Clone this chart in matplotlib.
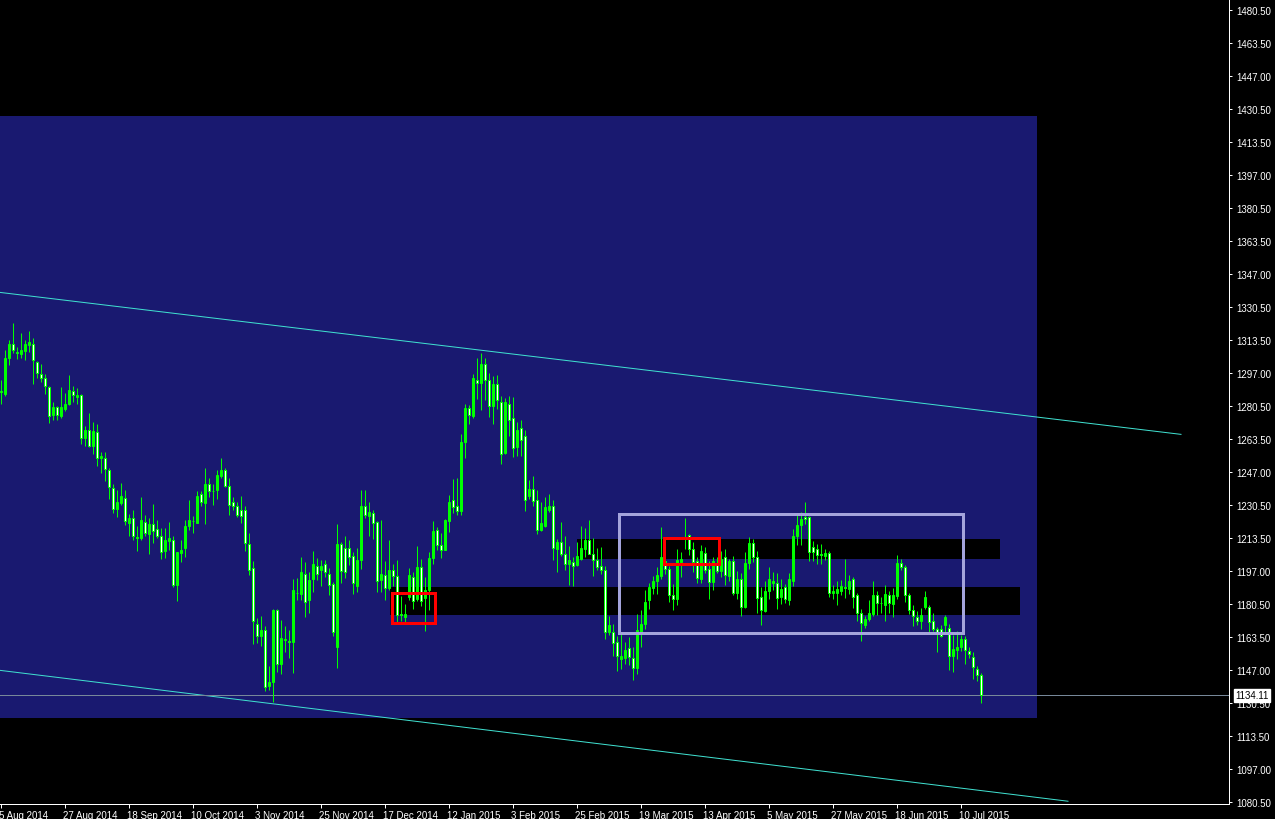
import matplotlib
matplotlib.use("Agg")
import matplotlib.pyplot as plt
from matplotlib.patches import Rectangle
from matplotlib.transforms import ScaledTranslation, blended_transform_factory
import numpy as np

# daily OHLC, one bar per trading day from 5 Aug 2014 to 17 Jul 2015
OPENS = [
    1287.5, 1286.6, 1304.7, 1311.5, 1307.6, 1306.8, 1308.1, 1311.1, 1311.5, 1302.7,
    1296.7, 1294.6, 1290.1, 1275.8, 1280.0, 1275.4, 1278.8, 1281.5, 1287.9, 1285.0,
    1286.0, 1264.3, 1268.4, 1260.3, 1267.4, 1254.2, 1254.2, 1248.2, 1239.1, 1228.3,
    1231.3, 1234.0, 1221.2, 1223.9, 1214.0, 1213.5, 1221.9, 1215.8, 1220.6, 1218.0,
    1214.5, 1207.1, 1212.2, 1212.5, 1189.9, 1206.1, 1208.8, 1219.9, 1222.4, 1221.2,
    1236.1, 1231.3, 1240.8, 1237.6, 1238.1, 1245.2, 1247.8, 1240.1, 1232.0, 1229.7,
    1227.6, 1227.6, 1210.8, 1198.3, 1170.1, 1164.3, 1167.4, 1138.8, 1141.1, 1177.1,
    1150.2, 1162.2, 1161.5, 1161.3, 1186.1, 1185.6, 1195.6, 1182.5, 1192.9, 1199.7,
    1197.3, 1200.4, 1195.6, 1190.3, 1158.6, 1210.8, 1208.4, 1208.4, 1204.8, 1189.6,
    1202.7, 1230.0, 1225.0, 1226.3, 1221.6, 1192.3, 1195.0, 1188.6, 1197.3, 1194.6,
    1175.3, 1173.8, 1183.9, 1193.9, 1182.9, 1199.0, 1183.2, 1187.6, 1203.7, 1217.9,
    1210.1, 1207.8, 1222.0, 1232.7, 1229.7, 1227.3, 1261.9, 1279.5, 1275.5, 1293.6,
    1292.0, 1301.7, 1293.3, 1280.2, 1291.3, 1282.5, 1256.6, 1281.5, 1274.4, 1259.6,
    1269.1, 1265.0, 1235.1, 1238.4, 1232.7, 1217.9, 1219.5, 1228.0, 1229.7, 1208.1,
    1211.8, 1205.8, 1200.7, 1201.4, 1200.0, 1203.1, 1208.1, 1212.8, 1205.4, 1202.7,
    1199.4, 1197.3, 1166.0, 1166.0, 1161.0, 1152.6, 1152.9, 1157.9, 1153.2, 1148.2,
    1166.0, 1170.4, 1182.4, 1188.4, 1192.1, 1194.5, 1202.2, 1197.8, 1185.0, 1182.7,
    1201.6, 1213.0, 1215.0, 1208.3, 1202.2, 1193.1, 1206.3, 1197.8, 1191.5, 1200.2,
    1197.2, 1203.9, 1194.5, 1201.9, 1186.1, 1193.1, 1179.0, 1201.2, 1211.3, 1204.2,
    1183.7, 1177.0, 1186.7, 1190.8, 1191.1, 1183.7, 1188.7, 1182.4, 1192.1, 1214.7,
    1220.4, 1224.4, 1224.4, 1209.1, 1208.3, 1205.4, 1204.6, 1205.9, 1185.7, 1186.1,
    1186.7, 1188.8, 1187.7, 1192.8, 1184.7, 1176.0, 1169.9, 1172.9, 1175.3, 1185.0,
    1180.8, 1180.0, 1185.0, 1180.4, 1184.4, 1201.2, 1199.2, 1184.7, 1177.3, 1174.0,
    1171.9, 1179.0, 1179.0, 1171.9, 1167.5, 1167.9, 1169.6, 1168.2, 1154.1, 1157.1,
    1158.4, 1162.5, 1156.8, 1153.7, 1147.7, 1144.6,
]
HIGHS = [
    1293.3, 1308.4, 1313.5, 1322.1, 1310.1, 1317.0, 1313.8, 1318.4, 1314.5, 1303.0,
    1301.4, 1296.7, 1290.5, 1282.2, 1280.5, 1290.1, 1286.7, 1295.8, 1290.6, 1289.2,
    1286.6, 1270.4, 1276.6, 1272.4, 1271.1, 1257.3, 1256.9, 1249.2, 1240.8, 1237.7,
    1241.4, 1238.1, 1225.9, 1227.6, 1219.5, 1234.2, 1225.1, 1223.6, 1230.7, 1222.6,
    1218.9, 1218.5, 1221.6, 1214.5, 1206.8, 1212.5, 1222.9, 1232.7, 1224.6, 1237.4,
    1237.4, 1248.8, 1244.1, 1240.8, 1247.8, 1254.2, 1248.8, 1243.8, 1234.4, 1231.7,
    1234.7, 1229.7, 1216.2, 1202.0, 1173.1, 1174.1, 1169.0, 1148.9, 1177.8, 1177.8,
    1172.4, 1169.0, 1167.0, 1193.0, 1193.3, 1204.1, 1201.4, 1196.3, 1207.1, 1203.4,
    1202.4, 1202.7, 1198.7, 1191.3, 1220.6, 1211.8, 1214.5, 1212.5, 1206.8, 1208.4,
    1237.7, 1237.7, 1232.0, 1227.6, 1222.0, 1222.6, 1202.1, 1212.8, 1200.4, 1202.4,
    1184.2, 1180.5, 1198.4, 1196.7, 1209.8, 1203.1, 1194.0, 1206.8, 1222.2, 1219.2,
    1216.2, 1223.3, 1235.4, 1243.5, 1244.1, 1266.0, 1281.2, 1280.8, 1296.3, 1304.4,
    1307.1, 1304.7, 1297.0, 1295.5, 1296.0, 1285.2, 1284.2, 1285.2, 1284.9, 1272.1,
    1273.4, 1268.1, 1242.8, 1245.2, 1238.1, 1232.0, 1234.4, 1236.1, 1233.0, 1213.2,
    1221.9, 1214.5, 1209.5, 1204.1, 1211.5, 1219.5, 1218.5, 1222.6, 1213.8, 1208.4,
    1209.1, 1199.7, 1174.4, 1170.1, 1164.3, 1165.4, 1161.0, 1163.7, 1158.6, 1175.1,
    1177.1, 1187.2, 1190.8, 1194.5, 1198.9, 1219.1, 1203.9, 1199.5, 1190.4, 1207.9,
    1206.6, 1223.8, 1215.5, 1211.7, 1203.9, 1210.0, 1209.0, 1202.2, 1203.9, 1204.2,
    1206.9, 1208.3, 1203.2, 1204.6, 1197.2, 1196.2, 1206.6, 1214.3, 1213.3, 1206.9,
    1188.7, 1192.1, 1199.2, 1196.5, 1196.2, 1193.1, 1190.4, 1196.2, 1218.0, 1225.1,
    1226.8, 1231.8, 1224.8, 1212.3, 1210.5, 1210.5, 1208.0, 1207.0, 1190.1, 1191.8,
    1192.5, 1203.2, 1195.1, 1193.8, 1185.7, 1178.0, 1174.3, 1182.3, 1191.8, 1187.1,
    1183.7, 1189.8, 1187.1, 1188.4, 1205.0, 1203.2, 1200.2, 1186.1, 1179.7, 1177.0,
    1178.3, 1187.1, 1180.0, 1176.0, 1168.9, 1169.6, 1174.6, 1170.2, 1164.5, 1166.9,
    1164.5, 1164.2, 1158.8, 1156.1, 1149.0, 1145.3,
]
LOWS = [
    1281.2, 1285.5, 1301.0, 1307.1, 1304.1, 1304.4, 1303.4, 1307.4, 1291.3, 1294.3,
    1292.6, 1286.2, 1271.7, 1273.1, 1273.1, 1274.1, 1278.0, 1281.0, 1282.2, 1281.2,
    1261.0, 1260.0, 1259.6, 1255.9, 1249.9, 1246.3, 1242.4, 1233.4, 1226.3, 1224.3,
    1230.3, 1220.2, 1214.5, 1212.8, 1207.1, 1212.8, 1214.8, 1205.4, 1211.1, 1213.5,
    1203.1, 1203.7, 1207.4, 1188.9, 1181.8, 1201.4, 1204.1, 1217.5, 1216.2, 1221.0,
    1229.6, 1220.9, 1234.4, 1230.3, 1233.4, 1243.8, 1239.4, 1225.3, 1228.0, 1224.3,
    1221.2, 1207.1, 1195.0, 1160.0, 1160.6, 1159.3, 1136.4, 1136.7, 1131.0, 1146.2,
    1145.2, 1156.3, 1152.9, 1145.5, 1182.2, 1182.2, 1173.8, 1175.8, 1186.2, 1192.3,
    1189.2, 1194.0, 1184.9, 1164.0, 1148.0, 1191.0, 1193.3, 1200.0, 1185.6, 1186.2,
    1198.0, 1223.6, 1214.9, 1213.1, 1186.2, 1186.6, 1182.5, 1187.6, 1189.6, 1170.1,
    1171.8, 1171.4, 1182.2, 1177.8, 1182.0, 1179.5, 1166.7, 1177.1, 1200.7, 1207.4,
    1203.7, 1207.5, 1216.5, 1226.3, 1225.3, 1225.3, 1254.2, 1271.1, 1274.5, 1283.9,
    1278.5, 1283.2, 1274.8, 1271.4, 1278.8, 1251.2, 1256.0, 1265.4, 1254.6, 1255.3,
    1255.3, 1227.3, 1233.4, 1229.7, 1215.5, 1217.2, 1219.0, 1227.0, 1202.4, 1196.3,
    1204.4, 1197.3, 1189.9, 1189.3, 1199.5, 1202.4, 1204.1, 1205.4, 1194.3, 1197.3,
    1195.3, 1162.7, 1164.7, 1154.2, 1146.5, 1147.5, 1150.2, 1149.5, 1141.8, 1145.2,
    1158.6, 1167.7, 1178.0, 1185.4, 1185.4, 1193.1, 1195.5, 1181.3, 1177.3, 1179.7,
    1193.8, 1208.3, 1205.2, 1196.5, 1191.1, 1191.0, 1196.2, 1182.7, 1187.4, 1195.8,
    1193.8, 1190.1, 1192.1, 1185.0, 1182.7, 1174.3, 1178.5, 1198.2, 1201.6, 1176.0,
    1169.5, 1176.5, 1183.0, 1187.4, 1178.0, 1180.3, 1180.7, 1179.7, 1189.4, 1210.3,
    1210.0, 1220.7, 1202.2, 1201.9, 1200.5, 1200.5, 1202.6, 1183.7, 1182.7, 1179.7,
    1184.7, 1183.4, 1185.4, 1178.3, 1171.9, 1161.5, 1168.2, 1171.6, 1174.3, 1175.0,
    1176.0, 1171.9, 1175.6, 1174.0, 1183.0, 1197.5, 1181.3, 1175.3, 1169.2, 1169.6,
    1167.9, 1177.6, 1165.9, 1166.5, 1156.1, 1163.5, 1165.9, 1147.0, 1146.0, 1152.4,
    1156.8, 1150.0, 1153.1, 1142.6, 1141.6, 1130.5,
]
CLOSES = [
    1288.0, 1304.7, 1311.5, 1308.8, 1307.2, 1308.4, 1311.8, 1312.5, 1303.7, 1297.0,
    1294.6, 1290.6, 1275.4, 1280.0, 1275.8, 1280.0, 1281.5, 1288.6, 1285.9, 1286.0,
    1264.3, 1268.4, 1260.0, 1267.7, 1254.2, 1255.2, 1248.5, 1239.4, 1228.3, 1232.0,
    1234.7, 1222.2, 1223.9, 1214.8, 1213.6, 1222.6, 1216.2, 1220.6, 1217.2, 1214.5,
    1206.8, 1212.8, 1213.5, 1189.9, 1206.4, 1207.8, 1219.9, 1222.9, 1222.0, 1235.0,
    1231.7, 1241.1, 1237.4, 1237.2, 1245.5, 1247.8, 1240.1, 1230.3, 1230.0, 1225.3,
    1224.6, 1211.1, 1197.7, 1171.7, 1164.3, 1167.0, 1138.4, 1140.8, 1177.1, 1150.2,
    1163.3, 1162.8, 1161.1, 1187.6, 1185.7, 1196.3, 1181.5, 1192.6, 1200.7, 1195.6,
    1199.7, 1196.6, 1190.0, 1166.0, 1210.8, 1197.0, 1196.7, 1204.1, 1190.9, 1202.7,
    1230.0, 1225.3, 1226.6, 1221.2, 1191.9, 1195.6, 1188.6, 1197.7, 1194.6, 1174.8,
    1174.9, 1175.5, 1195.0, 1181.9, 1199.0, 1181.9, 1187.6, 1203.7, 1217.2, 1210.1,
    1207.8, 1222.6, 1232.0, 1229.3, 1227.3, 1261.9, 1279.5, 1275.8, 1294.3, 1292.0,
    1301.4, 1293.3, 1280.5, 1291.3, 1283.5, 1256.3, 1282.5, 1273.4, 1259.3, 1268.4,
    1263.3, 1233.0, 1238.4, 1232.4, 1217.9, 1221.2, 1229.3, 1230.0, 1208.8, 1211.5,
    1205.4, 1200.7, 1202.7, 1199.7, 1204.4, 1208.4, 1212.5, 1205.8, 1202.4, 1199.0,
    1197.7, 1166.0, 1169.7, 1160.6, 1153.9, 1153.9, 1157.3, 1153.6, 1148.2, 1167.0,
    1170.1, 1181.5, 1188.7, 1192.1, 1194.8, 1203.9, 1197.8, 1185.0, 1182.7, 1202.6,
    1202.9, 1214.2, 1208.3, 1201.6, 1193.4, 1206.9, 1197.5, 1191.5, 1201.9, 1197.2,
    1203.2, 1194.8, 1201.9, 1186.1, 1193.1, 1178.6, 1201.2, 1211.3, 1203.9, 1183.4,
    1177.3, 1186.7, 1192.8, 1192.1, 1183.4, 1187.7, 1183.0, 1193.1, 1214.7, 1220.4,
    1223.4, 1223.4, 1206.6, 1206.6, 1205.2, 1205.0, 1206.3, 1185.7, 1187.1, 1187.7,
    1189.4, 1188.6, 1192.1, 1184.0, 1176.0, 1170.9, 1172.9, 1176.0, 1185.0, 1181.0,
    1180.6, 1185.4, 1181.0, 1184.7, 1200.9, 1199.2, 1185.0, 1177.3, 1174.3, 1171.9,
    1174.6, 1183.7, 1171.2, 1167.9, 1165.9, 1164.2, 1173.9, 1154.1, 1157.4, 1158.4,
    1162.8, 1157.1, 1155.1, 1148.7, 1144.6, 1134.11,
]

DATE_LABELS = [
    "5 Aug 2014", "27 Aug 2014", "18 Sep 2014", "10 Oct 2014", "3 Nov 2014",
    "25 Nov 2014", "17 Dec 2014", "12 Jan 2015", "3 Feb 2015", "25 Feb 2015",
    "19 Mar 2015", "13 Apr 2015", "5 May 2015", "27 May 2015", "18 Jun 2015",
    "10 Jul 2015",
]
BARS_PER_LABEL = 16
PRICE_TICKS = [
    1480.5, 1463.5, 1447.0, 1430.5, 1413.5, 1397.0, 1380.5, 1363.5, 1347.0,
    1330.5, 1313.5, 1297.0, 1280.5, 1263.5, 1247.0, 1230.5, 1213.5, 1197.0,
    1180.5, 1163.5, 1147.0, 1130.5, 1113.5, 1097.0, 1080.5,
]
LAST_PRICE = 1134.11

# chart objects: (bar from, bar to, price low, price high)
ZONE_BOX = (-1.0, 259.0, 1122.8, 1426.8)
SR_BANDS = [(144.0, 249.75, 1202.9, 1213.0), (97.25, 254.75, 1174.6, 1188.8)]
RED_BOXES = [(97.75, 108.5, 1170.6, 1186.1), (165.75, 179.4, 1200.5, 1213.7)]
RANGE_BOX = (154.4, 240.6, 1165.9, 1226.0)
# trend lines: (bar, price) -> (bar, price)
TRENDLINES = [((-0.25, 1337.7), (295.0, 1266.0)), ((-0.25, 1146.8), (266.75, 1080.7))]

PX = 0.72  # one pixel in points at dpi 100
LIME = "#00ff00"
FS = 7.0

plt.rcParams["font.family"] = ["Liberation Sans", "DejaVu Sans"]

fig = plt.figure(figsize=(12.75, 8.2), dpi=100, facecolor="black")
ax = fig.add_axes([0, 15 / 820, 1229 / 1275, 805 / 820], facecolor="black")

x0, x1, p0, p1 = ZONE_BOX
ax.add_patch(Rectangle((x0, p0), x1 - x0, p1 - p0, fc="#191970", ec="none", zorder=0.5))
for x0, x1, p0, p1 in SR_BANDS:
    ax.add_patch(Rectangle((x0, p0), x1 - x0, p1 - p0, fc="black", ec="none", zorder=1))

for (xa, ya), (xb, yb) in TRENDLINES:
    ax.plot([xa, xb], [ya, yb], color="#40e0d0", lw=PX, zorder=2)
ax.axhline(LAST_PRICE, color="#778899", lw=PX, zorder=2)

o = np.array(OPENS)
h = np.array(HIGHS)
l = np.array(LOWS)
c = np.array(CLOSES)
idx = np.arange(len(o))
ax.vlines(idx, l, h, color=LIME, lw=PX, zorder=3)
fills = np.where(c < o, "white", "none")
ax.bar(idx, np.abs(c - o), bottom=np.minimum(o, c), width=0.5,
       color=fills, edgecolor=LIME, linewidth=PX, zorder=4)

for x0, x1, p0, p1 in RED_BOXES:
    ax.add_patch(Rectangle((x0, p0), x1 - x0, p1 - p0, fill=False, ec="#ff0000",
                           lw=3 * PX, zorder=5))
x0, x1, p0, p1 = RANGE_BOX
ax.add_patch(Rectangle((x0, p0), x1 - x0, p1 - p0, fill=False, ec="#a4a4dc",
                       lw=3 * PX, zorder=5))

ax.set_xlim(-0.25, 307.0)
ax.set_ylim(1079.3, 1485.9)
for side in ("top", "left"):
    ax.spines[side].set_visible(False)
for side in ("right", "bottom"):
    ax.spines[side].set_color("white")
    ax.spines[side].set_linewidth(PX)

ax.yaxis.tick_right()
ax.set_yticks(PRICE_TICKS)
ax.set_yticklabels([f"{p:.2f}" for p in PRICE_TICKS])
ax.tick_params(axis="y", colors="white", length=3 * PX, width=PX, pad=3,
               labelsize=FS)

ax.set_xticks(np.arange(len(DATE_LABELS)) * BARS_PER_LABEL)
ax.set_xticklabels(DATE_LABELS, ha="left")
ax.tick_params(axis="x", colors="white", length=4 * PX, width=PX, pad=1.5,
               labelsize=FS)
shift = ScaledTranslation(-0.02, 0, fig.dpi_scale_trans)
for lab in ax.get_xticklabels():
    lab.set_transform(lab.get_transform() + shift)

trans = blended_transform_factory(ax.transAxes, ax.transData)
ax.text(1.0 + 6 / 1229, LAST_PRICE, f"{LAST_PRICE:.2f}", transform=trans,
        ha="left", va="center", color="black", fontsize=FS, zorder=10,
        clip_on=False,
        bbox=dict(boxstyle="square,pad=0.15", fc="white", ec="white"))

fig.savefig("out.png", dpi=100, facecolor="black")
